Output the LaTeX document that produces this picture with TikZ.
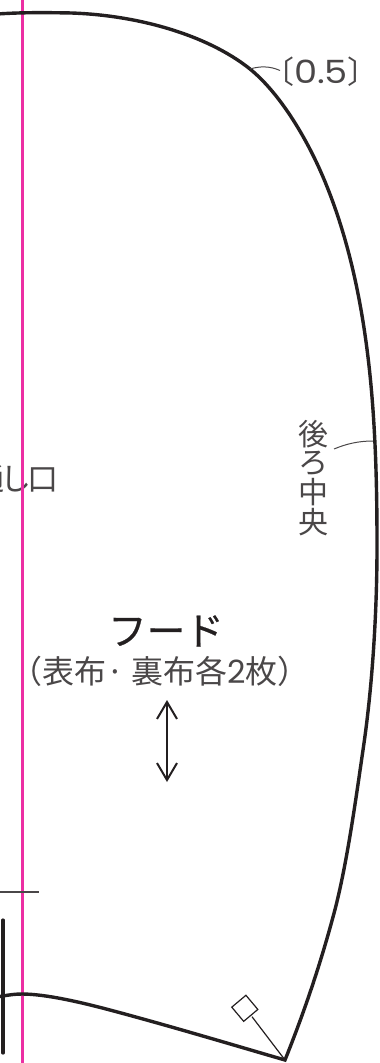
\documentclass[tikz,border=0pt]{standalone}
\usepackage{fontspec}
\usetikzlibrary{arrows.meta}
\newfontfamily\jpfont{Noto Sans CJK JP}
\newfontfamily\titlefont[FakeBold=0.6]{Noto Sans CJK JP}
\newfontfamily\digitfont{Poppins}
\newfontfamily\widedigit[FakeStretch=1.15]{Poppins}
\definecolor{ink}{HTML}{231F20}
\definecolor{thinink}{HTML}{4A4748}
\definecolor{pinkline}{HTML}{EC2FA3}
\tikzset{
  x=1pt,y=-1pt,
  outline/.style={ink,line width=3.4pt,line cap=round,line join=miter,miter limit=10},
  leader/.style={thinink,line width=1pt},
  label/.style={thinink,inner sep=0pt,font=\jpfont},
}
\begin{document}
\begin{tikzpicture}
\useasboundingbox (0,0) rectangle (380,1063);
\clip (0,0) rectangle (380,1063);
% labels
\node[label,anchor=east,font=\jpfont\fontsize{31}{31}\selectfont] (opening) at (59,479) {通\kern-4ptし\kern-4pt口};
% pink line
\draw[pinkline,line width=2.6pt] (22.5,-2) -- (22.5,1065);
% outline
\draw[outline] (-3,14)
  .. controls (20,12.5) and (40,12.5) .. (60,12.8)
  .. controls (130,13) and (205,33) .. (250,69)
  .. controls (277,91) and (302,130) .. (320,170)
  .. controls (352,242) and (367,325) .. (373,410)
  .. controls (376.5,460) and (377,505) .. (377,547)
  .. controls (377,615) and (372,690) .. (363,750)
  .. controls (355,805) and (346,870) .. (333,917)
  .. controls (320,965) and (305,1010) .. (285,1060)
  .. controls (230,1044) and (170,1026) .. (110,1010)
  .. controls (80,1002) and (45,994) .. (22,994)
  .. controls (15,994) and (8,995) .. (-3,997);
\draw[outline,line width=3.2pt] (3,920) -- (3,1053);
\draw[thinink,line width=1.1pt] (0,892) -- (38.5,892);
% notch
\coordinate (tip) at (285,1060);
\node[draw=ink,line width=1.2pt,minimum size=18.5pt,inner sep=0pt,rotate=-50,shape=rectangle] (notch) at (244.8,1008.3) {};
\draw[ink,line width=1.2pt] (252,1016.7) -- (tip);
% (0.5)
\node[label,font=\fontsize{32}{32}\selectfont] (seam) at (321,72) {{\jpfont\fontsize{31}{31}\selectfont 〔}{\widedigit 0.5}{\jpfont\fontsize{31}{31}\selectfont 〕}};
\coordinate (seamfoot) at (250,69);
\draw[leader] (seamfoot) .. controls (260,66) and (270,66) .. (280,70.5);
% back centre
\node[label,font=\jpfont\fontsize{30}{30}\selectfont] (c1) at (313,434) {後};
\node[label,font=\jpfont\fontsize{30}{30}\selectfont] (c2) at (313,463.5) {ろ};
\node[label,font=\jpfont\fontsize{30}{30}\selectfont] (c3) at (313,492.5) {中};
\node[label,font=\jpfont\fontsize{30}{30}\selectfont] (c4) at (313,522) {央};
\coordinate (backfoot) at (373,441);
\coordinate (backstart) at (334,449);
\draw[leader] (backstart) .. controls (346,444) and (358,441) .. (backfoot);
% title
\node[ink,inner sep=0pt,font=\titlefont\fontsize{38.5}{38.5}\selectfont] (title) at (166,631) {フード};
\node[label,font=\jpfont\fontsize{32}{32}\selectfont] (sub) at (160,671) {（表布· 裏布各{\digitfont 2}枚）};
% grain
\coordinate (g1) at (167,700);
\coordinate (g2) at (167,782);
\draw[ink,line width=2pt,{Straight Barb[length=17pt,width=20pt]}-{Straight Barb[length=17pt,width=20pt]}] (g1) -- (g2);
\end{tikzpicture}
\end{document}
